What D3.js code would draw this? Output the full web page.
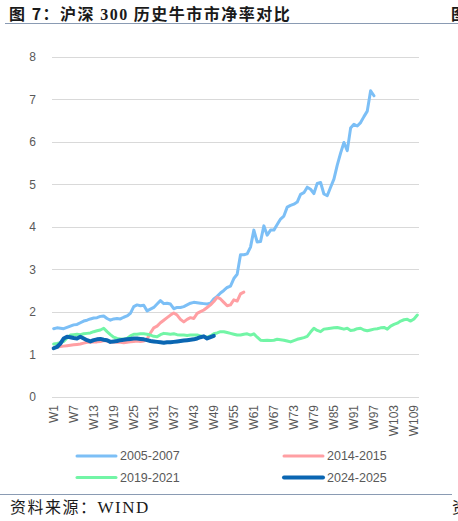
<!DOCTYPE html>
<html>
<head>
<meta charset="utf-8">
<script src="https://cdn.jsdelivr.net/npm/d3@7"></script>
<style>
  body { margin: 0; background: #fff; }
  text { font-family: "Liberation Sans", Arial, sans-serif; }
</style>
</head>
<body>
<div id="viz"></div>
<script>
// weekly P/B of CSI 300 in each bull market
const weeks = d3.range(1, 111).map(i => "W" + i);
const tickLabels = weeks.filter((d, i) => i % 6 === 0);
const yTicks = [0, 1, 2, 3, 4, 5, 6, 7, 8];

const s2005 = [1.60, 1.62, 1.61, 1.60, 1.63, 1.66, 1.69, 1.70, 1.74, 1.78,
  1.80, 1.83, 1.85, 1.86, 1.89, 1.90, 1.84, 1.80, 1.83, 1.84,
  1.83, 1.87, 1.90, 1.96, 2.12, 2.16, 2.14, 2.15, 2.02, 2.06,
  2.10, 2.18, 2.26, 2.19, 2.20, 2.18, 2.07, 2.10, 2.10, 2.12,
  2.16, 2.20, 2.22, 2.21, 2.20, 2.19, 2.18, 2.20, 2.30, 2.36,
  2.44, 2.50, 2.57, 2.60, 2.78, 2.88, 3.34, 3.34, 3.36, 3.52,
  3.92, 3.64, 3.65, 4.02, 3.80, 3.92, 3.92, 4.05, 4.18, 4.25,
  4.46, 4.50, 4.53, 4.58, 4.76, 4.80, 4.93, 4.88, 4.78, 5.02,
  5.04, 4.77, 4.73, 4.93, 5.12, 5.45, 5.73, 5.98, 5.79, 6.32,
  6.41, 6.37, 6.45, 6.59, 6.72, 7.20, 7.08];

const s2014 = [1.15, 1.17, 1.18, 1.19, 1.20, 1.21, 1.22, 1.23, 1.24, 1.26,
  1.28, 1.28, 1.29, 1.29, 1.30, 1.32, 1.31, 1.29, 1.29, 1.28,
  1.28, 1.27, 1.28, 1.29, 1.30, 1.31, 1.30, 1.31, 1.36, 1.50,
  1.62, 1.66, 1.74, 1.80, 1.86, 1.92, 1.97, 1.92, 1.82, 1.76,
  1.82, 1.86, 1.84, 1.96, 2.00, 2.04, 2.10, 2.16, 2.24, 2.34,
  2.30, 2.22, 2.14, 2.16, 2.28, 2.25, 2.42, 2.46];

const s2019 = [1.24, 1.25, 1.27, 1.30, 1.38, 1.45, 1.46, 1.47, 1.46, 1.48,
  1.49, 1.50, 1.53, 1.55, 1.57, 1.61, 1.53, 1.46, 1.40, 1.37,
  1.36, 1.35, 1.37, 1.43, 1.47, 1.47, 1.48, 1.48, 1.47, 1.45,
  1.42, 1.41, 1.46, 1.49, 1.48, 1.47, 1.48, 1.46, 1.45, 1.45,
  1.44, 1.45, 1.45, 1.45, 1.43, 1.41, 1.40, 1.43, 1.48, 1.50,
  1.53, 1.53, 1.51, 1.49, 1.47, 1.45, 1.45, 1.47, 1.48, 1.45,
  1.48, 1.40, 1.33, 1.32, 1.33, 1.32, 1.33, 1.35, 1.34, 1.33,
  1.31, 1.29, 1.32, 1.35, 1.37, 1.39, 1.42, 1.52, 1.61, 1.56,
  1.53, 1.59, 1.60, 1.61, 1.62, 1.63, 1.61, 1.59, 1.61, 1.56,
  1.57, 1.60, 1.61, 1.57, 1.55, 1.57, 1.59, 1.60, 1.62, 1.63,
  1.59, 1.66, 1.70, 1.73, 1.78, 1.81, 1.82, 1.78, 1.83, 1.92];

const s2024 = [1.14, 1.17, 1.25, 1.37, 1.41, 1.40, 1.38, 1.37, 1.41, 1.37,
  1.33, 1.30, 1.33, 1.35, 1.36, 1.34, 1.33, 1.29, 1.30, 1.31,
  1.33, 1.34, 1.35, 1.36, 1.37, 1.37, 1.36, 1.35, 1.33, 1.31,
  1.30, 1.29, 1.28, 1.27, 1.28, 1.28, 1.29, 1.30, 1.31, 1.32,
  1.33, 1.34, 1.35, 1.37, 1.40, 1.42, 1.37, 1.40, 1.43];

const series = [
  { name: "2005-2007", values: s2005, color: "#7cbff6", width: 3 },
  { name: "2014-2015", values: s2014, color: "#ff9fa3", width: 3 },
  { name: "2019-2021", values: s2019, color: "#72f5a6", width: 3 },
  { name: "2024-2025", values: s2024, color: "#0a66b2", width: 4 }
];

const W = 458, H = 521;
const svg = d3.select("#viz").append("svg")
  .attr("width", W)
  .attr("height", H);

// title
const title = svg.append("text")
  .attr("x", 9)
  .attr("y", 20)
  .style("font-size", "16px")
  .style("font-weight", "bold")
  .style("letter-spacing", "1.5px")
  .attr("fill", "#1a1a1a");
title.append("tspan").style("font-family", "'Noto Sans CJK SC'").text("图 7：沪深 ");
title.append("tspan").style("font-family", "'Liberation Serif'").text("300");
title.append("tspan").style("font-family", "'Noto Sans CJK SC'").text(" 历史牛市市净率对比");

// edge of the next column's title, cut off by the page
svg.append("text")
  .attr("x", 451)
  .attr("y", 20)
  .style("font-family", "'Noto Sans CJK SC'")
  .style("font-size", "16px")
  .style("font-weight", "bold")
  .attr("fill", "#1a1a1a")
  .text("图");

svg.append("line")
  .attr("x1", 5).attr("x2", W)
  .attr("y1", 23.5).attr("y2", 23.5)
  .attr("stroke", "#8a9bb3")
  .attr("stroke-width", 1);

const x = d3.scaleBand().domain(weeks).range([52, 419]);
const y = d3.scaleLinear().domain([0, 8]).range([396.7, 56.7]);

// gridlines
svg.append("g")
  .selectAll("line")
  .data(yTicks)
  .enter()
  .append("line")
  .attr("x1", 52).attr("x2", 419)
  .attr("y1", d => Math.round(y(d)) + 0.5)
  .attr("y2", d => Math.round(y(d)) + 0.5)
  .attr("stroke", "#d9d9d9")
  .attr("stroke-width", 1);

// y axis
const yAxis = svg.append("g")
  .attr("transform", "translate(40,0)")
  .call(d3.axisLeft(y).tickValues(yTicks).tickSize(0).tickPadding(4));
yAxis.select(".domain").remove();
yAxis.selectAll("text")
  .style("font-family", "'Liberation Sans'")
  .style("font-size", "12px")
  .attr("fill", "#595959");

// x axis
const xAxis = svg.append("g")
  .attr("transform", "translate(0,401)")
  .call(d3.axisBottom(x).tickValues(tickLabels).tickSize(0).tickPadding(0));
xAxis.select(".domain").remove();
xAxis.selectAll("text")
  .style("font-family", "'Liberation Sans'")
  .style("font-size", "12px")
  .attr("fill", "#595959")
  .attr("text-anchor", "end")
  .attr("transform", "rotate(-90)")
  .attr("x", -4)
  .attr("y", 0)
  .attr("dy", "0.35em");

// lines
const line = d3.line()
  .x((d, i) => x(weeks[i]) + x.bandwidth() / 2)
  .y(d => y(d));

series.forEach(s => {
  svg.append("path")
    .datum(s.values)
    .attr("fill", "none")
    .attr("stroke", s.color)
    .attr("stroke-width", s.width)
    .attr("stroke-linejoin", "round")
    .attr("stroke-linecap", "round")
    .attr("d", line);
});

// legend
const legendPos = [
  { lx: 77, ly: 456 },
  { lx: 284, ly: 456 },
  { lx: 77, ly: 477.5 },
  { lx: 284, ly: 477.5 }
];
series.forEach((s, i) => {
  const p = legendPos[i];
  svg.append("line")
    .attr("x1", p.lx).attr("x2", p.lx + 39)
    .attr("y1", p.ly).attr("y2", p.ly)
    .attr("stroke", s.color)
    .attr("stroke-width", s.width)
    .attr("stroke-linecap", "round");
  svg.append("text")
    .attr("x", p.lx + 43)
    .attr("y", p.ly)
    .attr("dy", "0.35em")
    .style("font-family", "'Liberation Sans'")
    .style("font-size", "12.5px")
    .attr("fill", "#595959")
    .text(s.name);
});

// source
svg.append("line")
  .attr("x1", 0).attr("x2", 452)
  .attr("y1", 494.5).attr("y2", 494.5)
  .attr("stroke", "#8a9bb3")
  .attr("stroke-width", 1);

const src = svg.append("text")
  .attr("x", 10)
  .attr("y", 513)
  .style("font-size", "16px")
  .style("letter-spacing", "1.5px")
  .attr("fill", "#1a1a1a");
src.append("tspan").style("font-family", "'Noto Sans CJK SC'").text("资料来源：");
src.append("tspan").style("font-family", "'Liberation Serif'").style("font-size", "17px").text("WIND");

svg.append("text")
  .attr("x", 452)
  .attr("y", 513)
  .style("font-family", "'Noto Sans CJK SC'")
  .style("font-size", "16px")
  .attr("fill", "#1a1a1a")
  .text("资");
</script>
</body>
</html>
